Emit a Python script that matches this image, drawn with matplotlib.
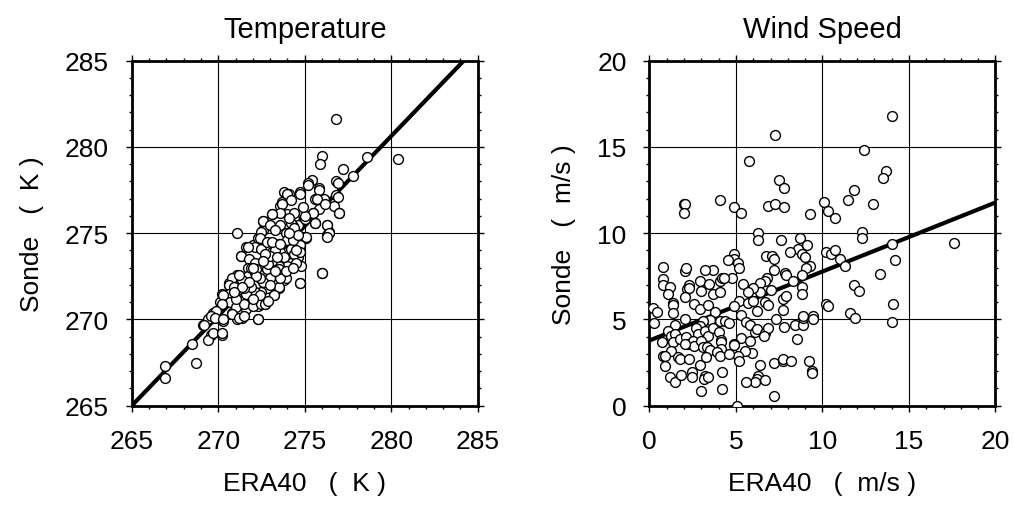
#!/usr/bin/env python3
import numpy as np
import matplotlib.pyplot as plt
from matplotlib.ticker import MultipleLocator

plt.rcParams['font.family'] = ['Liberation Sans', 'DejaVu Sans']

# ERA40 vs Sonde temperature (K)
temp_era = [
    276.8, 276.0, 275.9, 278.6, 280.4, 277.2, 277.8, 276.8, 275.4, 275.2,
    274.7, 273.8, 274.1, 275.8, 275.6, 276.1, 276.8, 276.7, 277.0, 275.8,
    275.5, 275.6, 275.1, 276.3, 276.4, 276.3, 276.0, 274.7, 271.1, 272.3,
    270.2, 269.6, 269.4, 268.5, 268.7, 266.9, 266.9, 269.1, 269.7, 269.4,
    270.3, 269.7, 270.1, 270.2, 270.6, 270.6, 270.8, 271.1, 271.4, 271.6,
    272.3, 272.7, 273.2, 273.5, 273.8, 270.6, 271.0, 271.3, 271.6, 272.0,
    272.3, 272.6, 272.6, 273.1, 273.6, 273.7, 274.0, 274.4, 274.6, 274.9,
    275.1, 274.3,
    274.0, 274.2, 273.7, 274.7, 275.2, 275.8, 276.9, 275.7, 276.2, 276.9,
    277.0, 276.3, 276.4, 276.3, 275.5, 275.6, 275.0, 274.4, 274.2, 273.6,
    273.1, 272.6, 273.0, 272.5, 273.6, 273.9, 274.4, 274.8, 275.1, 274.0,
    273.5, 273.0, 272.4, 272.1, 271.7, 271.3, 271.8, 272.5, 273.1, 273.6,
    274.2, 274.7, 274.6, 274.8, 274.2, 274.0, 273.5, 273.1, 272.5, 272.1,
    271.7, 271.1, 270.8, 270.6, 271.3, 271.7, 272.1, 272.5, 272.8, 273.2,
    273.7, 273.9, 273.5, 273.2, 272.8, 272.5, 272.1, 271.6, 271.1, 270.6,
    270.3, 270.7, 271.0, 271.5, 272.0, 272.5, 272.7, 272.4, 270.2, 269.9,
    269.6, 269.2, 269.8, 270.3, 270.8, 271.2, 271.5, 272.3, 269.7, 270.2,
    276.0, 274.7, 273.6, 273.0, 272.6, 271.9, 271.5,
    273.3, 272.9, 273.8, 274.3, 272.2, 271.4, 271.0, 272.0, 273.0, 274.4,
    274.6, 273.3, 272.8, 271.9, 270.9, 272.4, 273.5, 274.5, 273.0, 274.1,
    273.4, 273.9, 274.3, 274.7, 273.1, 272.7, 272.2, 271.8, 271.4, 272.9,
    273.6, 274.1, 274.5, 273.3, 272.6, 272.0, 271.2, 270.9, 275.0, 274.9,
]
temp_sonde = [
    281.6, 279.5, 279.0, 279.4, 279.3, 278.7, 278.3, 278.0, 278.1, 277.9,
    277.4, 277.4, 277.3, 277.6, 277.0, 277.0, 277.2, 276.6, 276.2, 276.4,
    276.2, 275.6, 275.9, 275.5, 275.1, 274.9, 272.7, 272.1, 275.0, 270.0,
    269.1, 269.1, 268.8, 268.6, 267.5, 267.3, 266.6, 269.7, 270.1, 270.0,
    269.9, 270.4, 271.0, 271.5, 272.0, 272.1, 270.4, 270.0, 270.1, 270.6,
    270.8, 270.9, 271.4, 271.8, 272.3, 271.2, 271.5, 273.7, 274.2, 274.3,
    274.7, 275.2, 275.7, 276.1, 276.6, 276.8, 276.1, 275.9, 275.5, 274.8,
    274.7, 275.4,
    277.3, 276.9, 276.7, 277.3, 277.8, 277.5, 277.9, 277.0, 276.7, 277.1,
    276.2, 275.5, 275.0, 274.8, 276.2, 275.6, 275.8, 276.2, 275.6, 276.2,
    276.1, 275.7, 275.5, 275.1, 275.5, 275.0, 275.3, 274.8, 274.8, 274.6,
    274.4, 274.2, 274.7, 274.2, 274.2, 273.7, 273.5, 274.1, 273.9, 273.9,
    274.1, 274.3, 273.6, 273.1, 273.3, 273.1, 273.1, 273.4, 273.3, 273.3,
    273.0, 272.6, 272.4, 272.0, 272.1, 272.5, 272.7, 272.6, 272.9, 272.6,
    272.6, 272.4, 271.9, 271.4, 271.8, 271.6, 271.6, 271.5, 271.7, 271.5,
    271.4, 271.0, 270.7, 270.9, 270.8, 270.9, 270.9, 271.4, 270.9, 270.5,
    270.2, 269.7, 270.1, 270.0, 270.3, 270.1, 270.2, 270.0, 269.2, 269.2,
    272.7, 272.1, 272.4, 272.4, 272.2, 271.9, 271.8,
    274.0, 273.2, 273.6, 274.6, 272.9, 272.3, 271.2, 271.2, 272.0, 273.8,
    274.9, 275.2, 274.5, 273.0, 271.9, 272.4, 272.9, 273.3, 273.7, 275.9,
    273.6, 272.8, 273.0, 273.9, 274.5, 273.8, 272.5, 272.2, 271.9, 271.1,
    274.4, 275.0, 274.0, 272.8, 273.4, 273.0, 272.6, 271.6, 276.0, 276.5,
]

# ERA40 vs Sonde wind speed (m/s)
wind_era = [
    14.0, 7.28, 12.4, 5.77, 13.7, 13.5, 7.5, 7.78, 11.8, 11.5,
    12.9, 10.1, 10.3, 10.7, 4.05, 1.97, 2.08, 1.97, 4.9, 5.3,
    6.87, 7.28, 7.78, 9.3, 12.3, 12.3, 17.6, 14.0, 14.2, 13.3,
    11.8, 12.1, 10.2, 10.5, 10.7, 11.0, 11.3, 10.2, 10.3, 11.6,
    11.9, 14.1, 14.0, 6.25, 6.25, 7.6, 8.7, 8.6, 9.1, 8.1,
    8.8, 9.0, 9.3, 9.07, 6.76, 7.1, 7.2, 7.2, 7.86, 7.9,
    8.3, 8.8, 8.8, 8.8, 6.8, 6.66, 6.4, 6.4, 6.0, 7.0,
    6.7, 6.87, 7.7, 7.9, 7.7, 7.3, 7.78, 8.4, 8.5, 8.9,
    8.9, 8.9, 9.46, 9.46, 7.2, 7.7, 7.7, 8.2, 9.2, 9.4,
    9.4, 7.2, 5.08, 4.9, 4.9, 5.1, 4.56, 4.77, 5.2, 5.4,
    5.7, 5.2, 4.9, 5.7, 6.0, 6.2, 5.3, 5.6, 5.8, 6.08,
    6.2, 6.7, 6.87, 6.6, 5.3, 5.8, 5.9, 5.5, 5.1, 5.2,
    4.9, 6.4, 6.3, 6.2, 6.1, 6.7, 5.6, 4.19, 4.2, 2.97,
    3.7, 3.2, 2.9, 3.47, 3.67, 4.07, 4.07, 4.19, 4.3, 2.07,
    2.12, 2.3, 2.16, 2.3, 2.05, 3.0, 0.77, 0.77, 0.77, 1.2,
    1.1, 1.35, 1.35, 1.35, 0.19, 0.42, 0.29, 1.5, 2.07, 2.6,
    2.9, 3.4, 3.8, 3.5, 3.1, 2.9, 2.7, 2.8, 3.2, 3.4,
    3.7, 4.0, 4.05, 4.34, 4.6, 1.1, 1.25, 1.45, 0.7, 1.35,
    1.74, 2.1, 2.2, 2.5, 2.6, 3.0, 3.1, 3.3, 3.5, 4.15,
    4.15, 4.15, 3.9, 4.05, 4.6, 4.9, 1.25, 0.77, 0.87, 0.87,
    1.64, 1.74, 2.28, 2.9, 3.28, 1.16, 1.45, 1.8, 2.47, 2.47,
    3.2, 3.14, 3.38, 2.03,
]
wind_sonde = [
    16.8, 15.7, 14.8, 14.2, 13.6, 13.2, 13.1, 12.6, 12.5, 11.9,
    11.7, 11.8, 11.3, 10.9, 11.9, 11.7, 11.7, 11.2, 11.5, 11.2,
    11.6, 11.7, 11.5, 11.1, 10.1, 9.7, 9.46, 9.36, 8.46, 7.66,
    6.97, 6.66, 8.9, 8.8, 9.0, 8.5, 8.1, 5.87, 5.77, 5.4,
    5.06, 5.87, 4.88, 10.0, 9.6, 9.6, 9.7, 9.1, 9.3, 8.9,
    8.8, 8.6, 8.1, 8.0, 8.7, 8.7, 8.5, 7.86, 7.7, 7.6,
    7.24, 7.6, 6.9, 6.5, 7.4, 7.24, 7.1, 6.6, 6.85, 6.7,
    6.04, 5.85, 6.2, 6.37, 5.54, 5.0, 4.57, 4.67, 3.88, 4.67,
    5.1, 5.2, 5.2, 5.0, 2.45, 2.6, 2.7, 2.57, 2.57, 2.0,
    1.9, 0.56, 0.0, 8.8, 8.5, 8.3, 8.45, 7.4, 8.0, 7.05,
    6.6, 6.1, 5.8, 5.95, 6.06, 5.5, 5.27, 4.86, 4.7, 4.3,
    4.45, 4.2, 4.5, 4.05, 3.9, 3.73, 3.03, 3.15, 2.9, 2.6,
    3.57, 2.36, 1.74, 1.55, 1.35, 1.47, 1.35, 0.98, 1.97, 0.87,
    7.86, 7.86, 7.24, 7.05, 6.47, 6.57, 7.24, 7.4, 7.4, 7.8,
    7.97, 6.99, 6.76, 6.85, 6.3, 6.66, 8.07, 7.37, 6.99, 6.9,
    6.47, 5.98, 5.85, 5.4, 5.66, 5.46, 4.77, 4.7, 5.0, 5.9,
    5.6, 5.85, 5.46, 4.98, 4.92, 4.63, 4.5, 4.15, 4.34, 4.05,
    4.5, 4.25, 4.9, 4.9, 4.8, 4.34, 4.05, 4.15, 3.67, 3.67,
    3.86, 3.96, 3.57, 3.77, 3.47, 3.77, 3.38, 3.42, 3.22, 3.82,
    3.67, 3.28, 3.09, 2.9, 2.99, 3.53, 3.19, 2.9, 2.9, 2.3,
    2.8, 2.7, 2.7, 2.37, 2.8, 1.68, 1.35, 1.8, 1.97, 1.68,
    1.74, 1.55, 1.68, 3.6,
]

# regression lines (intercept, slope)
temp_fit = (265.0 - 1.042 * 265.0, 1.042)
wind_fit = (3.78, 0.40)

panels = [
    ("Temperature", temp_era, temp_sonde, temp_fit, (265, 285), "K"),
    ("Wind Speed", wind_era, wind_sonde, wind_fit, (0, 20), "m/s"),
]


def main():
    fig = plt.figure(figsize=(10.14, 5.06), dpi=100)
    lefts = [0.1299, 0.6405]

    for left, (title, x, y, fit, lim, unit) in zip(lefts, panels):
        ax = fig.add_axes([left, 0.1962, 0.3412, 0.6818])
        ax.grid(True, color='black', linewidth=0.8, zorder=1)
        xs = np.array(lim, dtype=float)
        ax.plot(xs, fit[0] + fit[1] * xs, color='black', linewidth=3,
                solid_capstyle='butt', zorder=2)
        ax.scatter(x, y, s=50, facecolor='white', edgecolor='black',
                   linewidth=1.0, zorder=3)
        ax.set_xlim(lim)
        ax.set_ylim(lim)
        ax.xaxis.set_major_locator(MultipleLocator(5))
        ax.yaxis.set_major_locator(MultipleLocator(5))
        ax.xaxis.set_minor_locator(MultipleLocator(1))
        ax.yaxis.set_minor_locator(MultipleLocator(1))
        ax.tick_params(which='both', direction='out', top=True, right=True,
                       labelsize=19, pad=12, width=1)
        ax.tick_params(which='major', length=4.5)
        ax.tick_params(which='minor', length=2.5)
        for sp in ax.spines.values():
            sp.set_linewidth(2)
        ax.set_title(title, fontsize=21, pad=17)
        ax.set_xlabel(f"ERA40   (  {unit} )", fontsize=19, labelpad=13)
        ax.set_ylabel(f"Sonde   (  {unit} )", fontsize=19, labelpad=15)

    fig.savefig("out.png", dpi=100)


if __name__ == "__main__":
    main()
